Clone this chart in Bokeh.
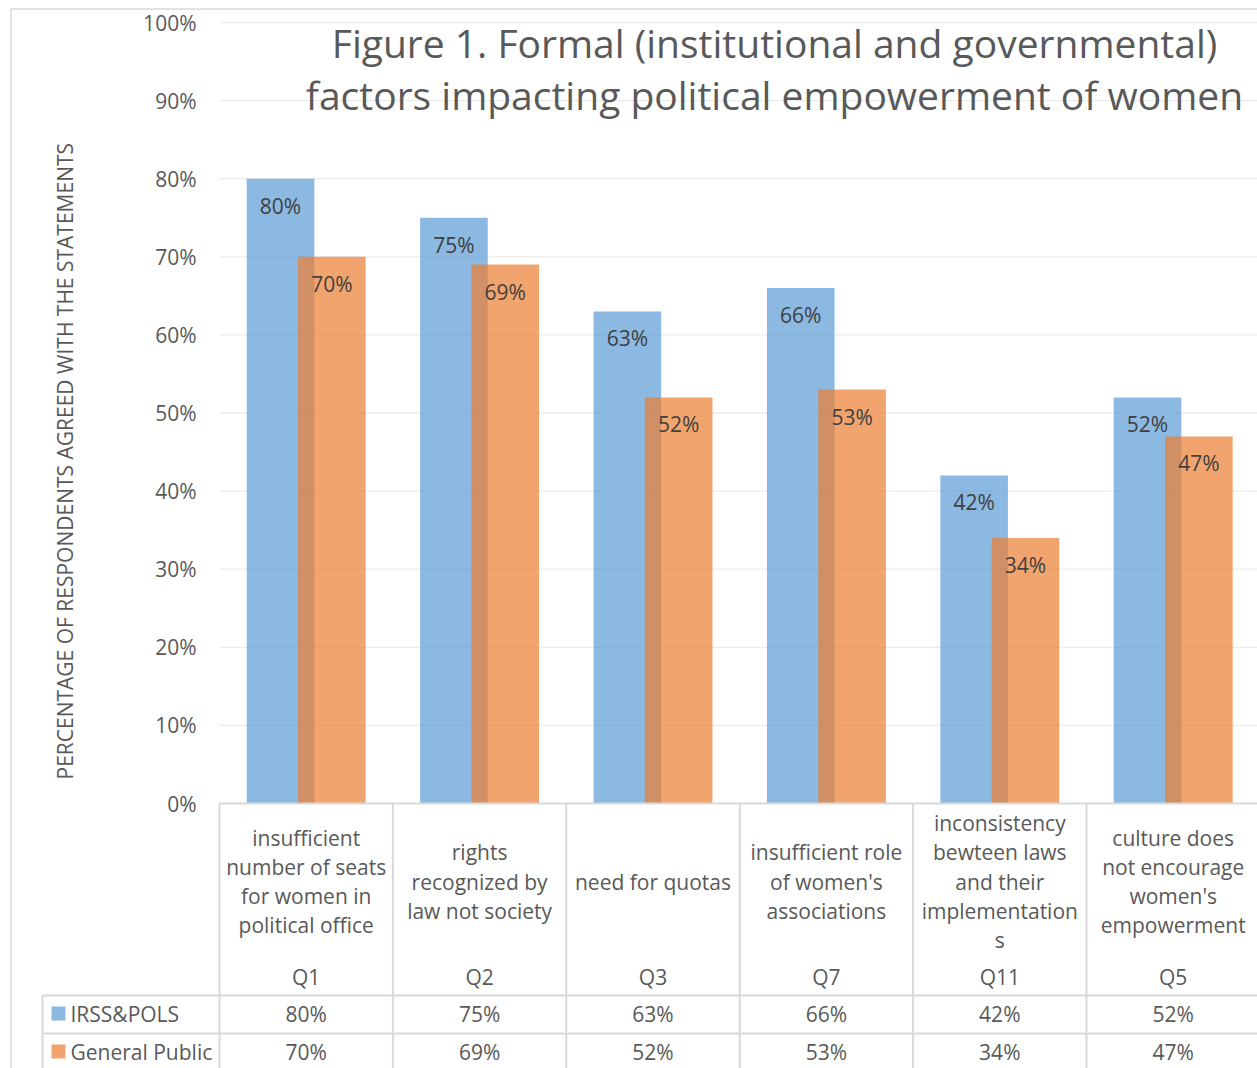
import math
from bokeh.plotting import figure
from bokeh.models import Range1d
from bokeh.core.properties import value
from bokeh.embed import file_html
from bokeh.resources import INLINE

# ---------------- data ----------------
categories = ["Q1", "Q2", "Q3", "Q7", "Q11", "Q5"]
statements = [
    ["insufficient", "number of seats", "for women in", "political office"],
    ["rights", "recognized by", "law not society"],
    ["need for quotas"],
    ["insufficient role", "of women's", "associations"],
    ["inconsistency", "bewteen laws", "and their", "implementation", "s"],
    ["culture does", "not encourage", "women's", "empowerment"],
]
series_names = ["IRSS&POLS", "General Public"]
irss_pols = [80, 75, 63, 66, 42, 52]
general_public = [70, 69, 52, 53, 34, 47]
y_ticks = [0, 10, 20, 30, 40, 50, 60, 70, 80, 90, 100]
title_lines = ["Figure 1. Formal (institutional and governmental)",
               "factors impacting political empowerment of women"]
y_title = "PERCENTAGE OF RESPONDENTS  AGREED WITH THE STATEMENTS"

# ---------------- layout helpers (pixel -> data) ----------------
W, H = 1257, 1068
X0, Y0 = 219.0, 803.0          # plot-area left edge / zero line (px)
PX_CAT = 173.4                  # px per category
PX_PCT = 7.81                   # px per percent


def dx(px):
    return (px - X0) / PX_CAT


def dy(py):
    return (Y0 - py) / PX_PCT


FONT = value("Open Sans")
TXT = "#595959"
LINE = "#D9D9D9"
BLUE = "#5B9BD5"
ORANGE = "#ED7D31"
FS = "21px"

p = figure(width=W, height=H, x_range=Range1d(dx(0), dx(W)), y_range=Range1d(dy(H), dy(0)),
           output_backend="svg", toolbar_location=None, min_border=0,
           x_axis_location=None, y_axis_location=None, outline_line_color=None,
           background_fill_color="white", border_fill_color="white")
p.grid.visible = False

n = len(categories)
centers = [i + 0.5 for i in range(n)]

# chart border
p.segment(x0=[dx(10.5), dx(10.5)], y0=[dy(8.5), dy(8.5)], x1=[dx(W), dx(10.5)], y1=[dy(8.5), dy(H)],
          line_color=LINE, line_width=1.5)

# gridlines
grid_ticks = [t for t in y_ticks if t > 0]
p.segment(x0=[dx(X0)] * len(grid_ticks), x1=[dx(W)] * len(grid_ticks), y0=grid_ticks, y1=grid_ticks,
          line_color="#EBEBEB", line_width=1.3)

# tick labels
p.text(x=[dx(196)] * len(y_ticks), y=y_ticks, text=[f"{t}%" for t in y_ticks],
       text_font=FONT, text_font_size=FS, text_color=TXT, text_align="right", text_baseline="middle")

# y-axis title
p.text(x=[dx(64)], y=[dy(458)], text=[y_title], angle=math.pi / 2,
       text_font=FONT, text_font_size="21px", text_color=TXT, text_align="center", text_baseline="middle")

# bars
off, bw = 0.148, 0.39
p.vbar(x=[c - off for c in centers], top=irss_pols, bottom=0, width=bw,
       fill_color=BLUE, fill_alpha=0.7, line_color=None)
p.vbar(x=[c + off for c in centers], top=general_public, bottom=0, width=bw,
       fill_color=ORANGE, fill_alpha=0.7, line_color=None)

# data labels (inside end)
lab_off = 27 / PX_PCT
p.text(x=[c - off for c in centers], y=[v - lab_off for v in irss_pols], text=[f"{v}%" for v in irss_pols],
       text_font=FONT, text_font_size=FS, text_color="#404040", text_align="center", text_baseline="middle")
p.text(x=[c + off for c in centers], y=[v - lab_off for v in general_public],
       text=[f"{v}%" for v in general_public],
       text_font=FONT, text_font_size=FS, text_color="#404040", text_align="center", text_baseline="middle")

# title
p.text(x=[dx(774), dx(774)], y=[dy(42), dy(94)], text=title_lines,
       text_font=FONT, text_font_size="39px", text_color=TXT, text_align="center", text_baseline="middle")

# ---------------- data table ----------------
# horizontal lines
p.segment(x0=[0, dx(42), dx(42)], x1=[dx(W)] * 3, y0=[0, dy(995), dy(1033)], y1=[0, dy(995), dy(1033)],
          line_color=LINE, line_width=2)
# vertical lines
vx = list(range(n + 1))
p.segment(x0=vx, x1=vx, y0=[0] * len(vx), y1=[dy(H)] * len(vx), line_color=LINE, line_width=2)
p.segment(x0=[dx(42)], x1=[dx(42)], y0=[dy(995)], y1=[dy(H)], line_color=LINE, line_width=2)

# category statement text
sx, sy, st = [], [], []
spacing = 29.3
for c, lines in zip(centers, statements):
    k = len(lines)
    for j, ln in enumerate(lines):
        sx.append(c)
        sy.append(dy(881 + (j - (k - 1) / 2) * spacing))
        st.append(ln)
p.text(x=sx, y=sy, text=st, text_font=FONT, text_font_size=FS, text_color=TXT,
       text_align="center", text_baseline="middle")

# category codes
p.text(x=centers, y=[dy(976)] * n, text=categories, text_font=FONT, text_font_size=FS, text_color=TXT,
       text_align="center", text_baseline="middle")

# table values
p.text(x=centers, y=[dy(1013)] * n, text=[f"{v}%" for v in irss_pols], text_font=FONT, text_font_size=FS,
       text_color=TXT, text_align="center", text_baseline="middle")
p.text(x=centers, y=[dy(1051)] * n, text=[f"{v}%" for v in general_public], text_font=FONT,
       text_font_size=FS, text_color=TXT, text_align="center", text_baseline="middle")

# legend keys + names
p.quad(left=[dx(51)], right=[dx(65)], top=[dy(1006)], bottom=[dy(1020)], fill_color=BLUE, fill_alpha=0.7,
       line_color=None)
p.quad(left=[dx(51)], right=[dx(65)], top=[dy(1044)], bottom=[dy(1058)], fill_color=ORANGE, fill_alpha=0.7,
       line_color=None)
p.text(x=[dx(70), dx(70)], y=[dy(1013), dy(1051)], text=series_names, text_font=FONT, text_font_size=FS,
       text_color=TXT, text_align="left", text_baseline="middle")

open("out.html", "w").write(file_html(p, INLINE))
